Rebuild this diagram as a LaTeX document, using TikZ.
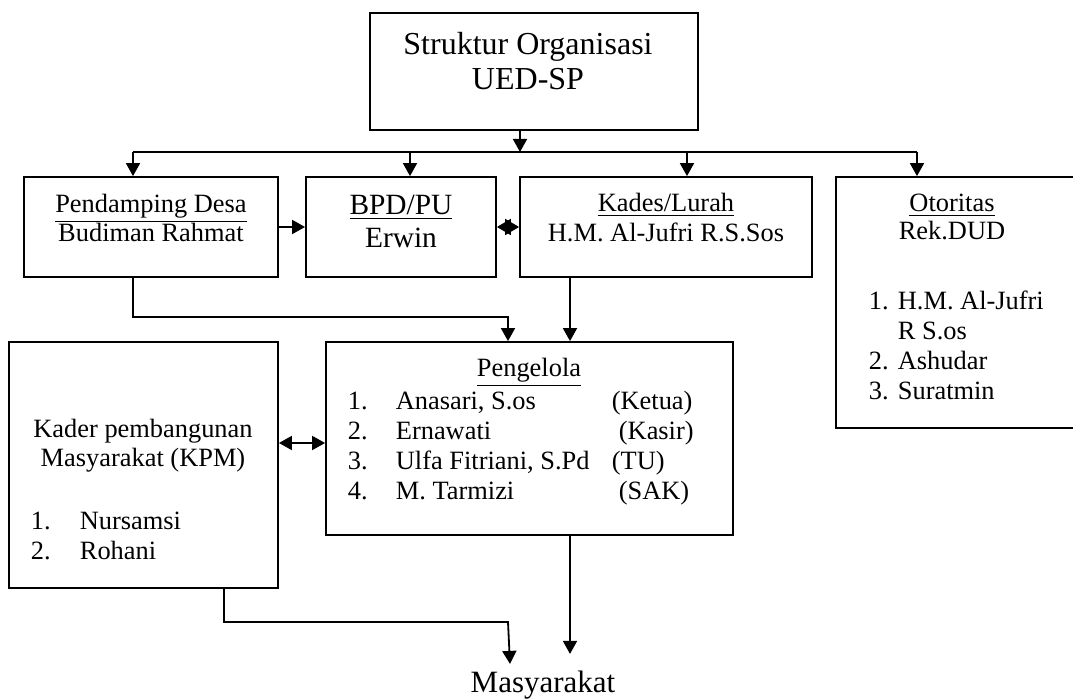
\documentclass[tikz,border=0pt]{standalone}
\usepackage{fontspec}
\setmainfont{Liberation Serif}
\usetikzlibrary{arrows.meta}

\begin{document}
\begin{tikzpicture}[x=0.5pt, y=-0.5pt, >={Triangle[length=6.5pt, width=7pt]}, line width=0.9pt,
  box/.style={draw, rectangle, inner sep=0pt},
  txt/.style={font=\fontsize{13.2}{14.5}\selectfont, align=center, inner sep=0pt, anchor=base},
  lst/.style={font=\fontsize{13.2}{15}\selectfont, inner sep=0pt, anchor=base west}]
  \useasboundingbox (0,0) rectangle (1073,699);
  % kotak-kotak
  \node[box, minimum width=164pt, minimum height=58.5pt] (top) at (534,71.5) {};
  \node[box, minimum width=127pt, minimum height=50pt] (pend) at (151,227) {};
  \node[box, minimum width=95pt, minimum height=50pt] (bpd) at (401,227) {};
  \node[box, minimum width=146pt, minimum height=50pt] (kades) at (666,227) {};
  \node[box, minimum width=120pt, minimum height=125.5pt] (otor) at (956,302.5) {};
  \node[box, minimum width=203.5pt, minimum height=96.5pt] (peng) at (529.5,438.5) {};
  \node[box, minimum width=134.5pt, minimum height=123pt] (kpm) at (143.5,465) {};
  % teks (base = baris terakhir)
  \node[txt, font=\fontsize{16}{17.5}\selectfont] (topTxt) at (528,90) {Struktur Organisasi\\UED-SP};
  \node[txt] (pendTxt) at (151,242) {\underline{Pendamping Desa}\\Budiman Rahmat};
  \node[txt, font=\fontsize{14.7}{16.5}\selectfont] (bpdTxt) at (401,248) {\underline{BPD/PU}\\Erwin};
  \node[txt, font=\fontsize{13.2}{15}\selectfont] (kadesTxt) at (666,242) {\underline{Kades/Lurah}\\H.M. Al-Jufri R.S.Sos};
  \node[txt, font=\fontsize{13.2}{14}\selectfont] (otorTxt) at (952,240) {\underline{Otoritas}\\Rek.DUD};
  \node[lst] (otorList) at (868,310) {\begin{tabular}[t]{@{}p{14.5pt}@{}l@{}}
    1. & H.M. Al-Jufri\\
       & R S.os\\
    2. & Ashudar\\
    3. & Suratmin
  \end{tabular}};
  \node[txt] (pengTxt) at (529,377) {\underline{Pengelola}};
  \node[lst] (pengList) at (347,410) {\begin{tabular}[t]{@{}p{24pt}@{}p{108pt}@{}l@{}}
    1. & Anasari, S.os & (Ketua)\\
    2. & Ernawati & \hspace{3.5pt}(Kasir)\\
    3. & Ulfa Fitriani, S.Pd & (TU)\\
    4. & M. Tarmizi & \hspace{3.5pt}(SAK)
  \end{tabular}};
  \node[txt] (kpmTxt) at (143,467) {Kader pembangunan\\Masyarakat (KPM)};
  \node[lst] (kpmList) at (30,530) {\begin{tabular}[t]{@{}p{24.5pt}@{}l@{}}
    1. & Nursamsi\\
    2. & Rohani
  \end{tabular}};
  \node[font=\fontsize{15.5}{17}\selectfont, anchor=base] (masy) at (543,693) {Masyarakat};
  % garis atas
  \coordinate (hub) at (520,152);
  \coordinate (busL) at (133,152);
  \coordinate (busR) at (917,152);
  \draw[->] (top.south -| hub) -- (hub);
  \draw (busL) -- (busR);
  \draw[->] (busL) -- (busL |- pend.north);
  \draw[->] (hub -| 410,0) -- (bpd.north -| 410,0);
  \draw[->] (hub -| 687,0) -- (kades.north -| 687,0);
  \draw[->] (busR) -- (busR |- otor.north);
  % antar kotak
  \draw[->] (pend.east) -- (bpd.west);
  \draw[{Triangle[length=7pt,width=8pt]}-{Triangle[length=7pt,width=8pt]}] (bpd.east) -- (kades.west);
  \draw[->] (pend.south -| busL) |- (508,317) -- (peng.north -| 508,0);
  \draw[->] (kades.south -| 570,0) -- (peng.north -| 570,0);
  \draw[<->] (kpm.east |- 0,443) -- (peng.west |- 0,443);
  % ke masyarakat
  \coordinate (masyTop) at ([yshift=5pt]masy.north);
  \draw[->] (kpm.south -| 224,0) |- (508,622) -- (masy.north -| 510,0);
  \draw[->] (peng.south -| 570,0) -- (masyTop -| 570,0);
\end{tikzpicture}
\end{document}
